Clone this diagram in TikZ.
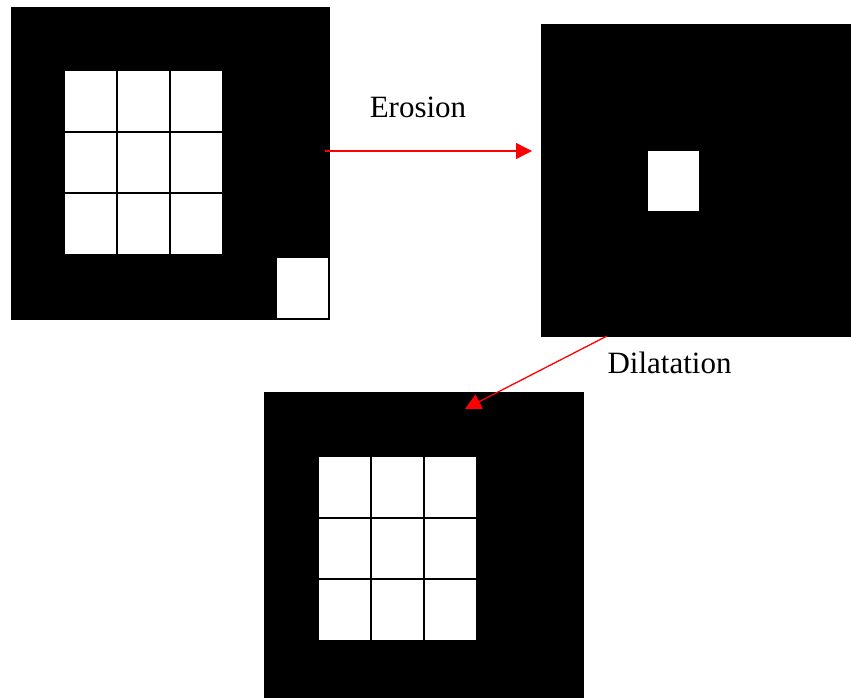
\documentclass[tikz,border=0pt]{standalone}
\usepackage{fontspec}
\setmainfont{Liberation Serif}
\usetikzlibrary{arrows.meta,calc}

\newcommand{\cellgrid}[3]{% #1 name prefix, #2 x, #3 y of the white block
  \foreach \i in {0,1,2}
    \foreach \j in {0,1,2}
      \node[cell] (#1-\i-\j) at ({#2+\i*53},{#3+\j*61.67}) {};
}

\begin{document}
\begin{tikzpicture}[x=1pt, y=-1pt,
      img/.style={fill=black, inner sep=0pt, outer sep=0pt, anchor=north west},
      cell/.style={fill=white, inner sep=0pt, outer sep=0pt,
        minimum width=51pt, minimum height=59.67pt, anchor=north west},
      dot/.style={fill=white, inner sep=0pt, anchor=north west,
        minimum width=51pt, minimum height=60pt},
      flow/.style={red, line width=1.3pt, -{Triangle[length=16pt,width=16pt]}},
      lbl/.style={font=\fontsize{31}{37}\selectfont, inner sep=0pt, anchor=base}]
  \useasboundingbox (0,0) rectangle (851,698);

  % original image
  \node[img, minimum width=319pt, minimum height=313pt] (orig) at (11,7) {};
  \cellgrid{a}{65}{71}
  \node[dot] (noise) at (277,258) {};

  % after erosion
  \node[img, minimum width=310pt, minimum height=313pt] (ero) at (541,24) {};
  \node[dot] (core) at (648,151) {};

  % after dilatation
  \node[img, minimum width=320pt, minimum height=306pt] (dil) at (264,392) {};
  \cellgrid{b}{319}{457}

  \coordinate (e-from) at (325,151);
  \coordinate (e-to) at (532,151);
  \coordinate (d-from) at (607,336);
  \coordinate (d-to) at (465,409);
  \draw[flow] (e-from) -- (e-to);
  \draw[flow] (d-from) -- (d-to);
  \node[lbl] (ero-lbl) at (418,118) {Erosion};
  \node[lbl] (dil-lbl) at (669.5,373) {Dilatation};
\end{tikzpicture}
\end{document}
